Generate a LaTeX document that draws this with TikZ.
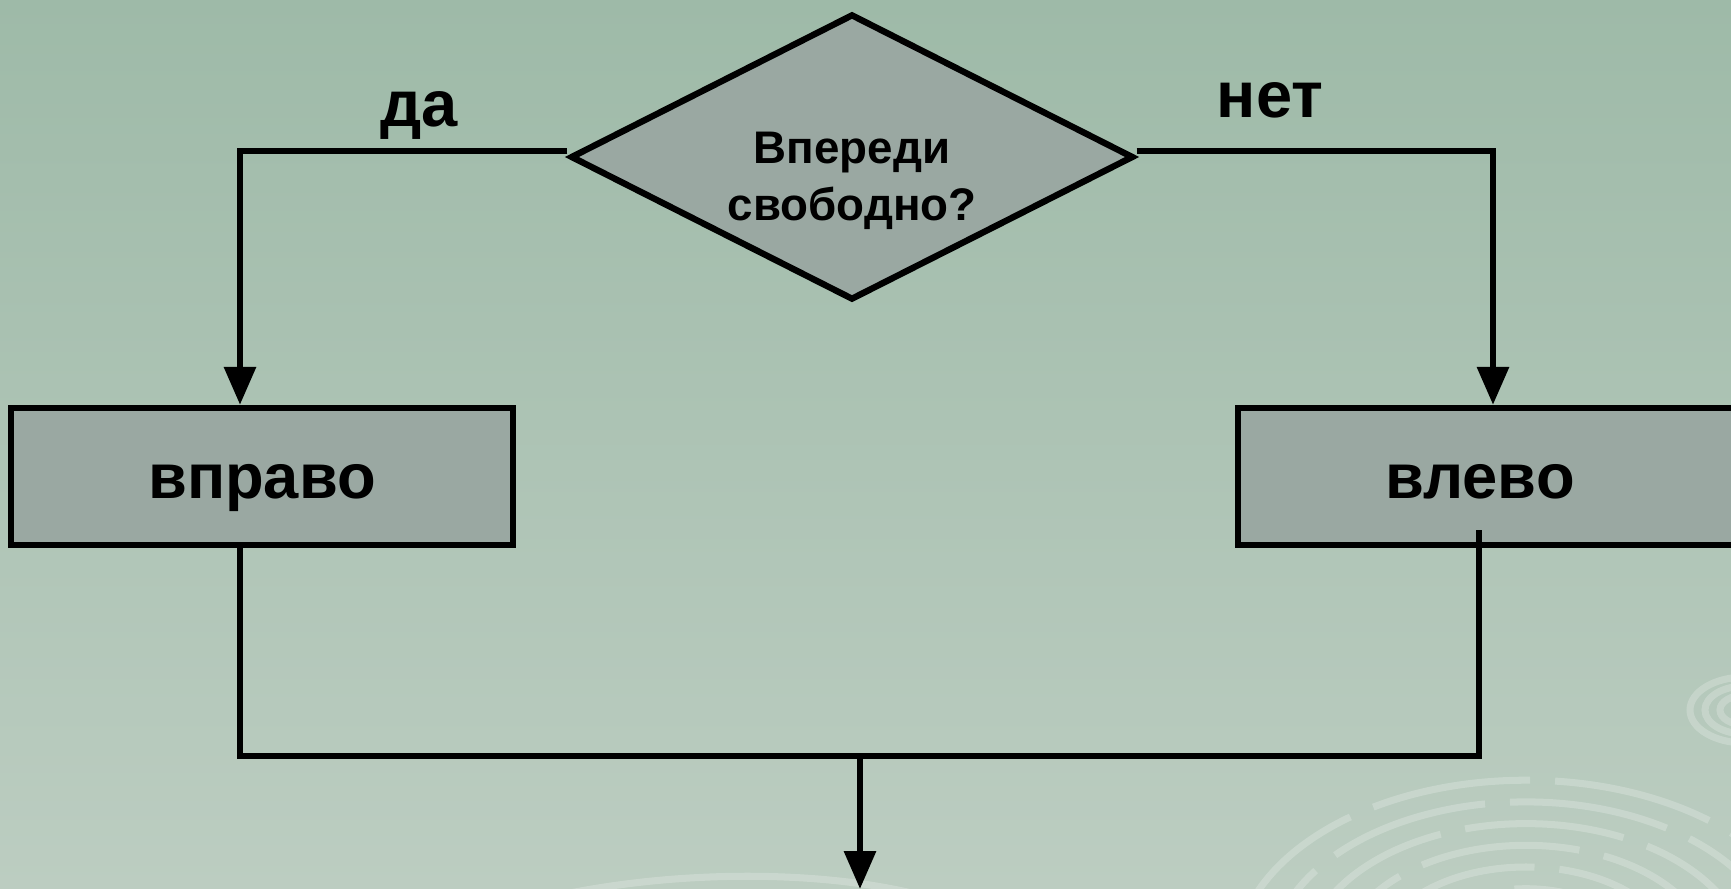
\documentclass[tikz,border=0pt]{standalone}
\usepackage{fontspec}
\setmainfont{Liberation Sans}
\usetikzlibrary{shapes.geometric, arrows.meta, positioning}
\definecolor{fonverh}{RGB}{158,186,168}
\definecolor{fonniz}{RGB}{188,205,193}
\definecolor{blokfill}{RGB}{154,168,162}
\tikzset{ %стили блок-схемы
    blok/.style={draw=black, line width=1.8pt, fill=blokfill, minimum height=1.37cm, text height=15pt, text depth=2.4pt, font=\fontsize{18}{22}\selectfont\bfseries},
    uslovie/.style={diamond, draw=black, line width=1.8pt, fill=blokfill, minimum width=5.63cm, minimum height=2.86cm, inner sep=0pt},
    strelka/.style={line width=1.8pt, -{Triangle[width=0.31cm,length=0.38cm]}},
    liniya/.style={line width=1.8pt},
    podpis/.style={font=\fontsize{18.5}{22}\selectfont\bfseries},
    zavitok/.style={white, opacity=0.22, line width=2pt},
}

\begin{document}
\begin{tikzpicture}
			\shade[top color=fonverh, bottom color=fonniz] (0,0) rectangle (17.31,-8.89);
			\useasboundingbox (0,0) rectangle (17.31,-8.89);
			\begin{scope}
				\clip (0,0) rectangle (17.31,-8.89);
				\foreach \r in {2.9,2.55,2.2,1.85,1.5,1.15}{
					\draw[zavitok, dash pattern=on 1.6cm off 0.25cm] (15.26,-9.6) ellipse ({\r} and {0.62*\r});
				}
				\foreach \r in {0.55,0.4,0.25}{
					\draw[zavitok] (17.45,-7.1) ellipse ({\r} and {0.6*\r});
				}
				\draw[zavitok] (5.6,-8.95) .. controls (6.8,-8.7) and (8.2,-8.7) .. (9.2,-8.95);
			\end{scope}
			\node[uslovie] (cond) at (8.52,-1.57) {};
			\node[align=center, font=\fontsize{13}{16.2}\selectfont\bfseries] (condtext) at (8.52,-1.81) {Впереди\\свободно?};
			\node[blok, minimum width=5.02cm] (vpravo) at (2.62,-4.765) {вправо};
			\node[blok, minimum width=5.1cm] (vlevo) at (14.93,-4.765) {\hspace*{-0.26cm}влево};
			\node[podpis] (da) at (4.19,-1.15) {да};
			\node[podpis] (net) at (12.70,-1.0) {нет};
			\coordinate (pravverh) at (14.79,-5.30);
			\coordinate (sliyanie) at (8.60,-7.56);
			\coordinate (vyhod) at (8.60,-8.89);
			\draw[strelka] ([yshift=0.06cm]cond.west) -| ([xshift=-0.22cm]vpravo.north);
			\draw[strelka] ([yshift=0.06cm]cond.east) -| (vlevo.north);
			\draw[liniya] ([xshift=-0.22cm]vpravo.south) |- (sliyanie) -| (pravverh);
			\draw[strelka] (sliyanie) -- (vyhod);
		\end{tikzpicture}
\end{document}
